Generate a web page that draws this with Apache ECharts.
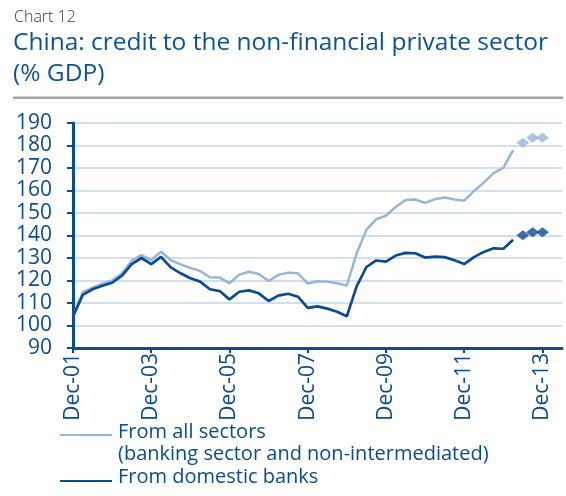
<!DOCTYPE html>
<html>
<head>
<meta charset="utf-8">
<script src="https://cdn.jsdelivr.net/npm/echarts@6/dist/echarts.min.js"></script>
<style>
  html, body { margin: 0; padding: 0; background: #ffffff; }
  #chart { width: 566px; height: 496px; }
</style>
</head>
<body>
<div id="chart"></div>
<script>
// Quarterly observations, Dec-01 to Jun-14
const quarters = [
  'Dec-01', 'Mar-02', 'Jun-02', 'Sep-02', 'Dec-02', 'Mar-03', 'Jun-03', 'Sep-03',
  'Dec-03', 'Mar-04', 'Jun-04', 'Sep-04', 'Dec-04', 'Mar-05', 'Jun-05', 'Sep-05',
  'Dec-05', 'Mar-06', 'Jun-06', 'Sep-06', 'Dec-06', 'Mar-07', 'Jun-07', 'Sep-07',
  'Dec-07', 'Mar-08', 'Jun-08', 'Sep-08', 'Dec-08', 'Mar-09', 'Jun-09', 'Sep-09',
  'Dec-09', 'Mar-10', 'Jun-10', 'Sep-10', 'Dec-10', 'Mar-11', 'Jun-11', 'Sep-11',
  'Dec-11', 'Mar-12', 'Jun-12', 'Sep-12', 'Dec-12', 'Mar-13', 'Jun-13', 'Sep-13',
  'Dec-13', 'Mar-14', 'Jun-14'
];

// Credit from all sectors (banking sector and non-intermediated), % GDP
const allSectors = [
  104.0, 114.8, 116.8, 118.6, 120.0, 123.2, 128.8, 131.3,
  129.1, 132.8, 129.1, 127.2, 125.6, 124.2, 121.4, 121.3,
  118.8, 122.6, 123.9, 122.9, 119.8, 122.5, 123.5, 123.2,
  118.6, 119.7, 119.5, 118.8, 117.8, 132.0, 142.5, 147.3,
  148.8, 152.7, 155.8, 156.0, 154.5, 156.1, 156.9, 156.0,
  155.5, 159.8, 163.5, 167.7, 170.1, 177.9
];
// Latest estimates for all sectors
const allSectorsLatest = [181.2, 183.4, 183.5];

// Credit from domestic banks, % GDP
const domesticBanks = [
  104.0, 113.6, 116.1, 117.7, 119.0, 122.1, 127.3, 130.0,
  127.3, 130.5, 125.8, 123.2, 121.0, 119.5, 116.1, 115.3,
  111.6, 115.0, 115.6, 114.3, 110.9, 113.3, 114.1, 112.8,
  107.8, 108.5, 107.5, 106.1, 104.1, 117.4, 126.0, 128.9,
  128.4, 131.1, 132.3, 132.1, 130.2, 130.6, 130.4, 129.0,
  127.3, 130.4, 132.7, 134.3, 134.1, 138.1
];
// Latest estimates for domestic banks
const domesticBanksLatest = [140.1, 141.5, 141.5];

const yTicks = { min: 90, max: 190, step: 10 };
const seriesNames = ['From all sectors', 'From domestic banks'];
const seriesNote = '(banking sector and non-intermediated)';
const chartNumber = 'Chart 12';
const titleLines = ['China: credit to the non-financial private sector', '(% GDP)'];

const DARK = '#0b4b8f';
const LIGHT = '#97b5d9';
const GRID = '#c3d5e9';
const TITLE = '#0d5299';
const FONT = '"Open Sans", "Noto Sans", sans-serif';

// Place the latest-estimate points after the last observed quarter
function tailPoints(history, latest) {
  const out = quarters.map(() => null);
  latest.forEach((v, i) => { out[history.length + i] = v; });
  return out;
}

const everyOtherDec = (idx) => idx % 8 === 0;

const chart = echarts.init(document.getElementById('chart'), null, { renderer: 'canvas' });

chart.setOption({
  animation: false,
  backgroundColor: '#ffffff',
  grid: { left: 73, right: 4, top: 123, bottom: 148, containLabel: false },
  xAxis: {
    type: 'category',
    data: quarters,
    boundaryGap: false,
    axisLine: { show: true, lineStyle: { color: DARK, width: 3 } },
    axisTick: { show: true, interval: everyOtherDec, length: 5, lineStyle: { color: DARK, width: 2 } },
    axisLabel: {
      interval: everyOtherDec,
      rotate: 90,
      margin: 5,
      color: DARK,
      fontFamily: FONT,
      fontSize: 21
    },
    splitLine: { show: false }
  },
  yAxis: {
    type: 'value',
    min: yTicks.min,
    max: yTicks.max,
    interval: yTicks.step,
    axisLine: { show: true, lineStyle: { color: DARK, width: 3 } },
    axisTick: { show: true, length: 6, lineStyle: { color: DARK, width: 2 } },
    axisLabel: {
      margin: 21,
      color: DARK,
      fontFamily: FONT,
      fontSize: 21
    },
    splitLine: { show: true, lineStyle: { color: GRID, width: 1.5 } }
  },
  series: [
    {
      name: seriesNames[0],
      type: 'line',
      data: allSectors,
      showSymbol: false,
      lineStyle: { color: LIGHT, width: 2.5 },
      itemStyle: { color: LIGHT },
      z: 2
    },
    {
      name: seriesNames[0],
      type: 'scatter',
      data: tailPoints(allSectors, allSectorsLatest),
      symbol: 'diamond',
      symbolSize: [13, 10],
      itemStyle: { color: LIGHT },
      z: 3
    },
    {
      name: seriesNames[1],
      type: 'line',
      data: domesticBanks,
      showSymbol: false,
      lineStyle: { color: DARK, width: 2.7 },
      itemStyle: { color: DARK },
      z: 4
    },
    {
      name: seriesNames[1],
      type: 'scatter',
      data: tailPoints(domesticBanks, domesticBanksLatest),
      symbol: 'diamond',
      symbolSize: [13, 10],
      itemStyle: { color: DARK },
      z: 5
    }
  ],
  graphic: [
    {
      type: 'text', left: 14, top: 9,
      style: { text: chartNumber, fill: '#3c3c3c', font: '300 16px ' + FONT }
    },
    {
      type: 'text', left: 13, top: 31,
      style: { text: titleLines[0], fill: TITLE, font: '24.5px ' + FONT }
    },
    {
      type: 'text', left: 13, top: 62,
      style: { text: titleLines[1], fill: TITLE, font: '24.5px ' + FONT }
    },
    {
      type: 'rect', shape: { x: 13, y: 96.5, width: 550, height: 2.5 },
      style: { fill: '#a5a5a5' }
    },
    // Key
    {
      type: 'line', shape: { x1: 60, y1: 435, x2: 112, y2: 435 },
      style: { stroke: LIGHT, lineWidth: 2 }
    },
    {
      type: 'text', left: 118, top: 422,
      style: { text: seriesNames[0], fill: DARK, font: '20px ' + FONT }
    },
    {
      type: 'text', left: 118, top: 444,
      style: { text: seriesNote, fill: DARK, font: '20px ' + FONT }
    },
    {
      type: 'line', shape: { x1: 60, y1: 481, x2: 112, y2: 481 },
      style: { stroke: DARK, lineWidth: 2 }
    },
    {
      type: 'text', left: 118, top: 467,
      style: { text: seriesNames[1], fill: DARK, font: '20px ' + FONT }
    }
  ]
});
</script>
</body>
</html>
